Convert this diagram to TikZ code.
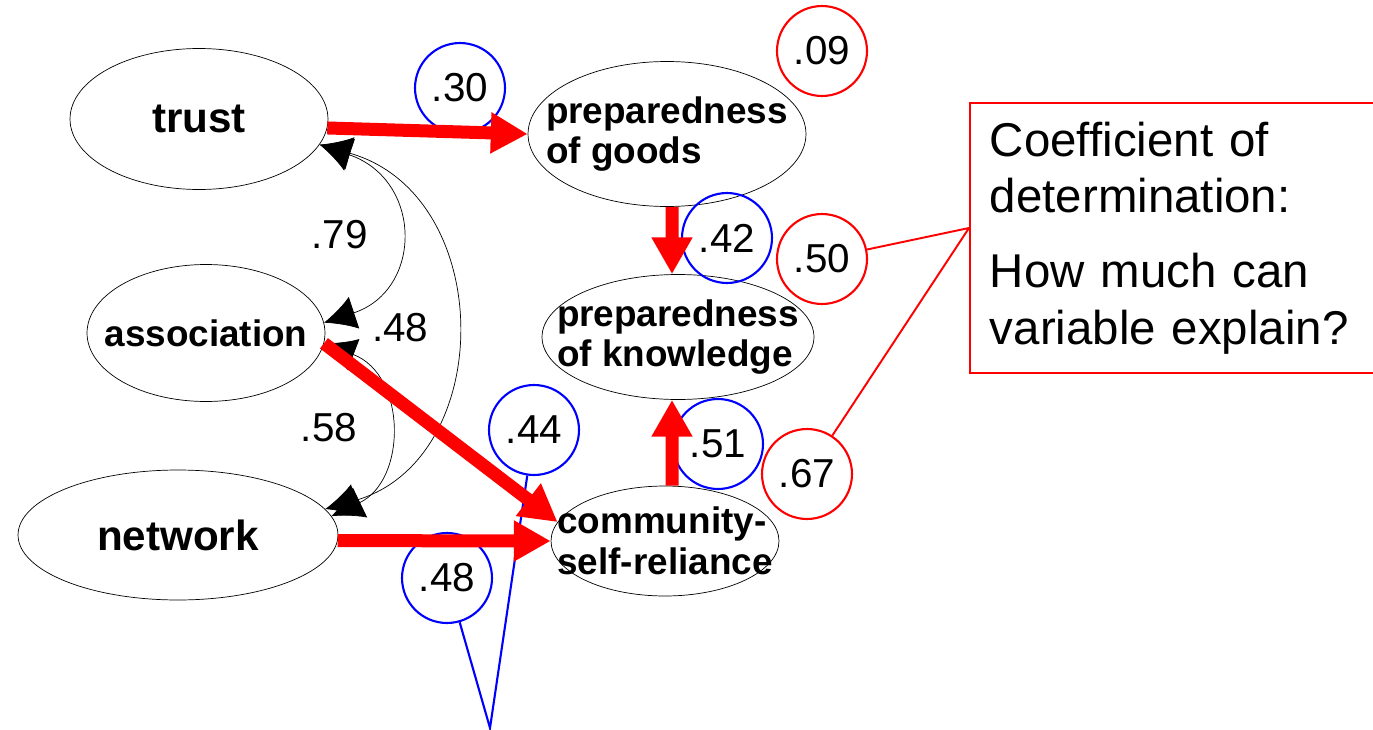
\documentclass[tikz,border=0pt]{standalone}
\usepackage{fontspec}
\setmainfont{Liberation Sans}
\usetikzlibrary{shapes.geometric,arrows.meta}

\begin{document}
\begin{tikzpicture}[x=0.02cm, y=-0.02cm, semithick,
   lv/.style={ellipse, draw, thin, inner sep=0pt},
   vtext/.style={font=\fontsize{21}{23}\selectfont\bfseries, align=left, inner sep=0pt},
   btext/.style={font=\fontsize{24}{28}\selectfont\bfseries, inner sep=0pt},
   num/.style={font=\fontsize{23}{26}\selectfont, inner sep=0pt},
   errc/.style={circle, draw=blue, line width=1.2pt, minimum size=1.8cm, num},
   rsq/.style={circle, draw=red, line width=1.2pt, minimum size=1.8cm, num},
   effect/.style={draw=red, line width=7.4pt, -{Triangle[length=21pt,width=22pt]}},
   cov/.style={thin, {Latex[length=18pt,width=19pt]}-{Latex[length=18pt,width=19pt]}},
   note/.style={draw=red, line width=1.1pt, anchor=north west, minimum height=5.4cm,
                text width=7.82cm, inner xsep=0.4cm, align=left,
                font=\fontsize{27}{32}\selectfont}]
   \clip (0,0) rectangle (1373,730);

   % latent variables
   \node[lv, minimum width=5.16cm, minimum height=2.82cm, label={[btext]center:trust}]       (trust)   at (199,119) {};
   \node[lv, minimum width=4.76cm, minimum height=2.74cm, label={[vtext]center:association}] (assoc)   at (206,333) {};
   \node[lv, minimum width=6.4cm,  minimum height=2.6cm,  label={[btext]center:network}]     (network) at (178,535) {};
   \node[lv, minimum width=5.56cm, minimum height=2.9cm,  label={[vtext]center:{preparedness\\of goods}}]     (goods)     at (667,134) {};
   \node[lv, minimum width=5.44cm, minimum height=2.5cm,  label={[vtext]center:{preparedness\\of knowledge}}] (knowledge) at (678,337) {};
   \node[lv, minimum width=4.56cm, minimum height=2.2cm,  label={[vtext]center:{community-\\self-reliance}}]  (comm)      at (665,541) {};

   % error terms
   \node[errc] (e30) at (460,88)  {.30};
   \node[errc] (e42) at (727,238) {.42};
   \node[errc] (e44) at (534,430) {.44};
   \node[errc] (e51) at (718,444) {.51};
   \node[errc] (e48) at (447,578) {.48};
   \coordinate (err) at (490,728);
   \draw[blue, line width=1.2pt] (e44) -- (err) -- (e48);

   % coefficients of determination
   \node[rsq] (r09) at (822,51)  {.09};
   \node[rsq] (r50) at (822,259) {.50};
   \node[rsq] (r67) at (807,474) {.67};
   \node[note] (note) at (969,102) {Coefficient of\\determination:\\[11pt]How much can\\variable explain?};
   \coordinate (tip) at (969,228);
   \draw[red, line width=1.1pt] (r50) -- (tip) -- (r67);

   % correlations
   \draw[cov] (trust.-12) .. controls (423,180) and (423,290) .. node[num, left=17pt] {.79} (assoc.5);
   \draw[cov] (assoc.-5) .. controls (407,375) and (407,480) .. node[num, left=17pt] {.58} (network.7);
   \draw[cov] (trust.-12) .. controls (497,195) and (497,460) .. node[num, left=14pt] {.48} (network.10);

   % paths
   \draw[effect] (trust.-4) -- (goods.west);
   \draw[effect] ([xshift=0.1cm]goods.south) -- ([xshift=-0.12cm]knowledge.north);
   \draw[effect] ([xshift=0.14cm]comm.north) -- ([xshift=-0.12cm]knowledge.south);
   \draw[effect] (assoc.-5) -- (comm.170);
   \draw[effect] (network.-2) -- (comm.west);
\end{tikzpicture}
\end{document}
